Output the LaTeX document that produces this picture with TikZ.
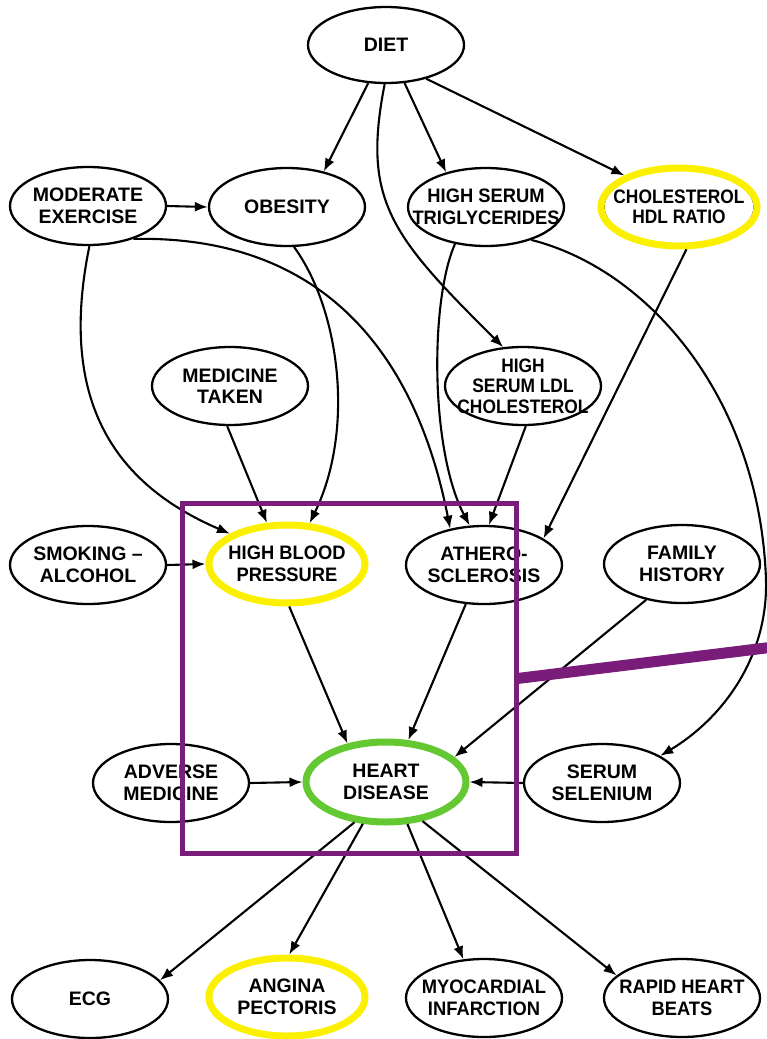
\documentclass[tikz,border=0pt]{standalone}
\usepackage{fontspec}
\newfontfamily\lbl{Liberation Sans}
\newfontfamily\lblsemi{Liberation Sans}[FakeStretch=0.94]
\newfontfamily\lblnarrow{Liberation Sans}[FakeStretch=0.89]
\usetikzlibrary{shapes.geometric,arrows.meta}
\definecolor{hiyellow}{RGB}{250,240,0}
\definecolor{hdgreen}{RGB}{100,200,50}
\definecolor{boxpurple}{RGB}{122,28,122}
\begin{document}
\begin{tikzpicture}[x=1pt,y=-1pt,
  ell/.style={ellipse,draw=black,line width=2.3pt,minimum width=156pt,minimum height=78pt,
    inner xsep=-25pt,inner ysep=0pt,align=center,
    font=\lbl\bfseries\fontsize{19.5}{21.5}\selectfont},
  semitext/.style={font=\lblsemi\bfseries\fontsize{19.5}{21.5}\selectfont},
  narrowtext/.style={font=\lblnarrow\bfseries\fontsize{19.5}{20.5}\selectfont},
  hilite/.style={ell,draw=hiyellow,line width=7pt},
  heart/.style={ell,draw=hdgreen,line width=7pt,minimum width=160pt,minimum height=80pt},
  arr/.style={line width=2.1pt,-{Latex[length=13pt,width=10pt]}},
  focusbox/.style={draw=boxpurple,line width=5pt,inner sep=0pt,outer sep=0pt},
  focusbar/.style={draw=boxpurple,line width=11pt}
]
\useasboundingbox (0,0) rectangle (767,1039);
\fill[white] (0,0) rectangle (767,1039);

% row 1
\node[ell,minimum height=76pt] (diet) at (386,45) {DIET};
% row 2
\node[ell] (modex) at (88,206) {MODERATE\\EXERCISE};
\node[ell] (obesity) at (287,207) {OBESITY};
\node[ell,semitext] (trig) at (486,207) {HIGH SERUM\\TRIGLYCERIDES};
\draw[black,line width=1.2pt] (679,207) ellipse [x radius=75pt, y radius=37.5pt];
\node[hilite,narrowtext] (chol) at (679,207) {CHOLESTEROL\\HDL RATIO};
% row 3
\node[ell] (medicine) at (230,386) {MEDICINE\\TAKEN};
\node[ell,narrowtext] (ldl) at (523,386) {HIGH\\SERUM LDL\\CHOLESTEROL};
% row 4
\node[ell] (smoking) at (88,565) {SMOKING –\\ALCOHOL};
\node[hilite,semitext] (hbp) at (287,564) {HIGH BLOOD\\PRESSURE};
\node[ell] (athero) at (484,565) {ATHERO-\\SCLEROSIS};
\node[ell] (family) at (682,564) {FAMILY\\HISTORY};
% row 5
\node[ell] (adverse) at (171,783) {ADVERSE\\MEDICINE};
\node[heart] (hd) at (386,782) {HEART\\DISEASE};
\node[ell] (selenium) at (602,783) {SERUM\\SELENIUM};
% row 6
\node[ell] (ecg) at (90,999) {ECG};
\node[hilite] (angina) at (287,997) {ANGINA\\PECTORIS};
\node[ell,semitext] (myo) at (484,998) {MYOCARDIAL\\INFARCTION};
\node[ell,semitext] (rapid) at (682,998) {RAPID HEART\\BEATS};

% influences
\draw[arr] (diet.245) -- (obesity.44);
\draw[arr] (diet.-64) -- (trig.139);
\draw[arr] (diet.-40) -- (chol.150);
\draw[arr] (diet.-92) .. controls (362,200) and (390,235) .. (ldl.117);
\draw[arr] (modex.east) -- (obesity.west);
\draw[arr] (modex.-88) .. controls (60,390) and (105,480) .. (hbp.152);
\draw[arr] (modex.-36) .. controls (320,235) and (415,350) .. (athero.133);
\draw[arr] (obesity.-80) .. controls (340,310) and (355,430) .. (hbp.61);
\draw[arr] (trig.-130) .. controls (430,300) and (430,450) .. (athero.110);
\draw[arr] (trig.-36) .. controls (650,270) and (760,400) .. (766,580)
  .. controls (768,660) and (720,720) .. (selenium.25);
\draw[arr] (chol.-80) -- (athero.24);
\draw[arr] (ldl.-86) -- (athero.83);
\draw[arr] (medicine.-94) -- (hbp.116);
\draw[arr] (smoking.east) -- (hbp.west);
\draw[arr] (hbp.-87) -- (hd.135);
\draw[arr] (athero.-115) -- (hd.62);
\draw[arr] (family.-135) -- (hd.20);
\draw[arr] (adverse.east) -- (hd.west);
\draw[arr] (selenium.west) -- (hd.east);
\draw[arr] (hd.-128) -- (ecg.15);
\draw[arr] (hd.-119) -- (angina.87);
\draw[arr] (hd.-63) -- (myo.118);
\draw[arr] (hd.-47) -- (rapid.161);

% highlighted region and its pointer bar
\node[focusbox,minimum width=334.6pt,minimum height=350.7pt] (focus) at (349.3,678.6) {};
\coordinate (barend) at (790,645);
\draw[focusbar] (focus.east) -- (barend);
\end{tikzpicture}
\end{document}
